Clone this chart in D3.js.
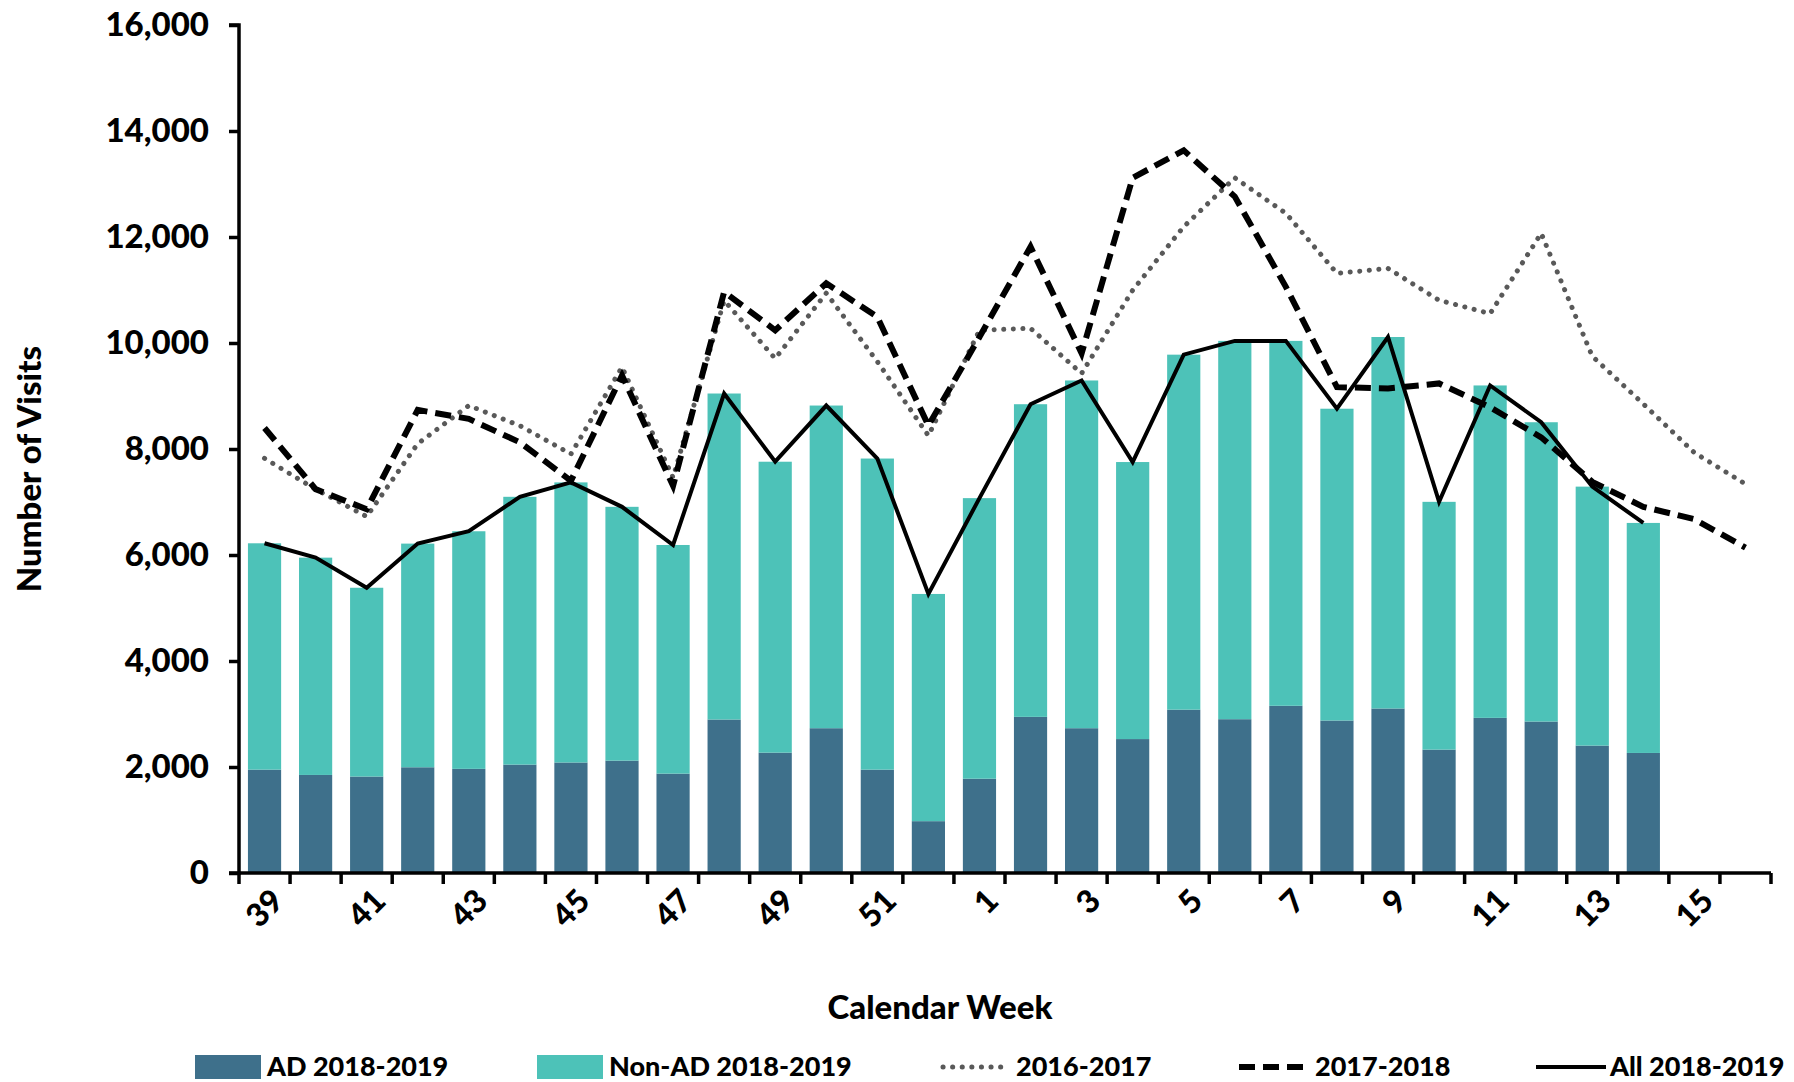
<!DOCTYPE html>
<html>
<head>
<meta charset="utf-8">
<script src="https://cdn.jsdelivr.net/npm/d3@7"></script>
<style>
  body { margin: 0; background: #fff; }
  text { font-family: Lato, "Open Sans", sans-serif; font-weight: 900; fill: #000; }
</style>
</head>
<body>
<div id="chart"></div>
<script>
// calendar weeks, 2018-2019 season runs 39..14, older seasons to week 16
var weeks = ['39','40','41','42','43','44','45','46','47','48','49','50','51','52',
  '1','2','3','4','5','6','7','8','9','10','11','12','13','14','15','16'];
var adVisits = [1950,1850,1820,1995,1965,2045,2085,2120,1875,2896,2271,2732,1950,978,
  1779,2946,2732,2527,3082,2902,3155,2877,3104,2328,2927,2858,2404,2265];
var nonAdVisits = [4271,4100,3562,4220,4483,5053,5285,4789,4314,6151,5489,6088,5870,4287,
  5294,5899,6561,5227,6698,7138,6885,5883,7009,4675,6272,5647,4886,4340];
var season2016 = [7823,7240,6725,8100,8820,8440,7905,9545,7460,10800,9707,10940,9650,8252,
  10240,10277,9426,10996,12195,13117,12448,11313,11408,10807,10555,12070,9750,8850,7930,7340];
var season2017 = [8397,7243,6864,8738,8568,8126,7400,9388,7306,10964,10240,11127,10491,8441,
  10113,11816,9804,13117,13634,12762,11059,9167,9142,9237,8788,8220,7380,6909,6675,6139];
var yTicks = [0,2000,4000,6000,8000,10000,12000,14000,16000];

var colAD = '#3e708b', colNonAD = '#4dc2b8', colDot = '#595959';

var width = 1794, height = 1082;
var svg = d3.select('#chart').append('svg')
  .attr('width', width)
  .attr('height', height);

var x = d3.scaleBand().domain(weeks).range([239, 1771]).padding(0);
var y = d3.scaleLinear().domain([0, 16000]).range([873, 25]);
var barW = x.bandwidth() * 0.65;

// stacked bars
var barData = adVisits.map(function(d, i){
  return {week: weeks[i], ad: d, non: nonAdVisits[i], all: d + nonAdVisits[i]};
});
var g = svg.append('g');
g.selectAll('.ad').data(barData).enter().append('rect')
  .attr('class', 'ad')
  .attr('x', function(d){ return x(d.week) + (x.bandwidth() - barW) / 2; })
  .attr('width', barW)
  .attr('y', function(d){ return y(d.ad); })
  .attr('height', function(d){ return y(0) - y(d.ad); })
  .attr('fill', colAD);
g.selectAll('.non').data(barData).enter().append('rect')
  .attr('class', 'non')
  .attr('x', function(d){ return x(d.week) + (x.bandwidth() - barW) / 2; })
  .attr('width', barW)
  .attr('y', function(d){ return y(d.all); })
  .attr('height', function(d){ return y(d.ad) - y(d.all); })
  .attr('fill', colNonAD);

// lines
var line = d3.line()
  .x(function(d, i){ return x(weeks[i]) + x.bandwidth() / 2; })
  .y(function(d){ return y(d); });

svg.append('path').datum(season2016)
  .attr('d', line).attr('fill', 'none')
  .attr('stroke', colDot).attr('stroke-width', 5)
  .attr('stroke-linecap', 'round').attr('stroke-dasharray', '0.1 9.5');
svg.append('path').datum(season2017)
  .attr('d', line).attr('fill', 'none')
  .attr('stroke', '#000').attr('stroke-width', 6)
  .attr('stroke-dasharray', '16 8');
svg.append('path').datum(barData.map(function(d){ return d.all; }))
  .attr('d', line).attr('fill', 'none')
  .attr('stroke', '#000').attr('stroke-width', 4)
  .attr('stroke-linejoin', 'miter');

// y axis
var yAxis = svg.append('g')
  .attr('transform', 'translate(239,0)')
  .call(d3.axisLeft(y).tickValues(yTicks).tickSize(10).tickPadding(20)
    .tickFormat(d3.format(',')));
yAxis.select('.domain').attr('stroke-width', 3.5).attr('d', 'M-10,' + y(16000) + 'H0V' + y(0) + 'H-10');
yAxis.selectAll('.tick line').attr('stroke-width', 3.5);
yAxis.selectAll('.tick text').style('font-size', '33px');

// x axis: ticks on band edges, every other label
var xAxis = svg.append('g').attr('transform', 'translate(0,873)');
xAxis.append('line').attr('x1', 239).attr('x2', 1771)
  .attr('stroke', '#000').attr('stroke-width', 3.5);
var edges = weeks.map(function(w){ return x(w); }).concat([x.range()[1]]);
xAxis.selectAll('.xt').data(edges).enter().append('line')
  .attr('x1', function(d){ return d; }).attr('x2', function(d){ return d; })
  .attr('y1', 0).attr('y2', 11)
  .attr('stroke', '#000').attr('stroke-width', 3.5);
xAxis.selectAll('.xl').data(weeks.filter(function(w, i){ return i % 2 == 0; }))
  .enter().append('text')
  .attr('text-anchor', 'end')
  .attr('transform', function(d){
    return 'translate(' + (x(d) + x.bandwidth() / 2 + 13) + ',22) rotate(-45)';
  })
  .attr('dy', '0.35em')
  .style('font-size', '32px')
  .text(function(d){ return d; });

// axis titles
svg.append('text')
  .attr('transform', 'translate(41,469) rotate(-90)')
  .attr('text-anchor', 'middle')
  .style('font-size', '33px')
  .text('Number of Visits');
svg.append('text')
  .attr('x', 940).attr('y', 1019)
  .attr('text-anchor', 'middle')
  .style('font-size', '33px')
  .text('Calendar Week');

// legend
var legend = [
  {label: 'AD 2018-2019', type: 'rect', color: colAD, x: 195},
  {label: 'Non-AD 2018-2019', type: 'rect', color: colNonAD, x: 537},
  {label: '2016-2017', type: 'dot', x: 940},
  {label: '2017-2018', type: 'dash', x: 1239},
  {label: 'All 2018-2019', type: 'solid', x: 1536}
];
var ly = 1067;
var lg = svg.selectAll('.lg').data(legend).enter().append('g')
  .attr('transform', function(d){ return 'translate(' + d.x + ',' + ly + ')'; });
lg.filter(function(d){ return d.type == 'rect'; }).append('rect')
  .attr('x', 0).attr('y', -12).attr('width', 66).attr('height', 24)
  .attr('fill', function(d){ return d.color; });
lg.filter(function(d){ return d.type == 'dot'; }).append('line')
  .attr('x1', 3).attr('x2', 66).attr('y1', 0).attr('y2', 0)
  .attr('stroke', colDot).attr('stroke-width', 5)
  .attr('stroke-linecap', 'round').attr('stroke-dasharray', '0.1 9.5');
lg.filter(function(d){ return d.type == 'dash'; }).append('line')
  .attr('x1', 0).attr('x2', 66).attr('y1', 0).attr('y2', 0)
  .attr('stroke', '#000').attr('stroke-width', 6)
  .attr('stroke-dasharray', '16 8');
lg.filter(function(d){ return d.type == 'solid'; }).append('line')
  .attr('x1', 0).attr('x2', 70).attr('y1', 0).attr('y2', 0)
  .attr('stroke', '#000').attr('stroke-width', 4);
lg.append('text')
  .attr('x', function(d){ return d.type == 'solid' ? 74 : (d.type == 'rect' ? 72 : 76); })
  .attr('dy', '0.35em')
  .style('font-size', '27px')
  .text(function(d){ return d.label; });
</script>
</body>
</html>
